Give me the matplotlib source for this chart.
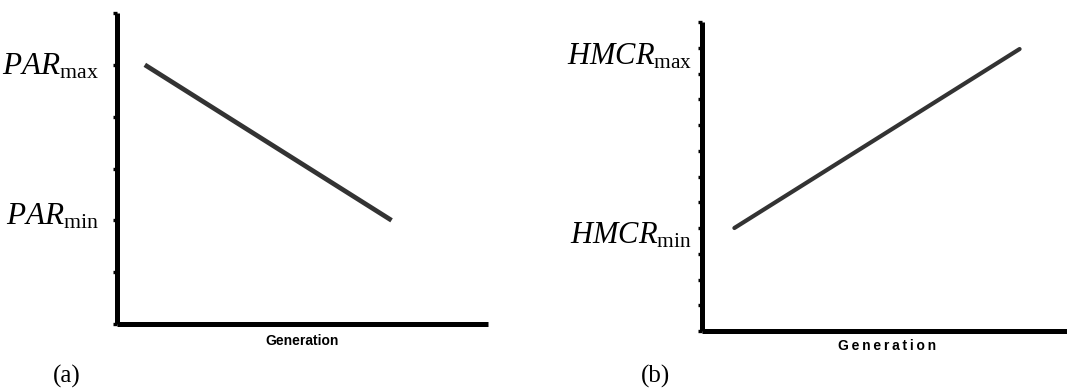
import matplotlib
matplotlib.use("Agg")
import matplotlib.pyplot as plt

plt.rcParams['mathtext.fontset'] = 'custom'
plt.rcParams['mathtext.rm'] = 'Liberation Serif'
plt.rcParams['mathtext.it'] = 'Liberation Serif:italic'

# ---- data ----
par_gen = [7.5, 74.0]
par_values = [5.0, 2.0]
par_ticks = [0, 1, 2, 3, 4, 5, 6]
par_labels = [r'$\mathit{PAR}_{\mathrm{max}}$', r'$\mathit{PAR}_{\mathrm{min}}$']
par_label_pos = [4.98, 2.08]

hmcr_gen = [8.8, 86.3]
hmcr_values = [4.0, 10.95]
hmcr_ticks = list(range(0, 13))
hmcr_labels = [r'$\mathit{HMCR}_{\mathrm{max}}$', r'$\mathit{HMCR}_{\mathrm{min}}$']
hmcr_label_pos = [10.68, 3.72]

xlabel_text = 'Generation'
panel_tags = ['(a)', '(b)']

W, H = 1067, 389
fig = plt.figure(figsize=(W / 100, H / 100), dpi=100)

def px_axes(x0, x1, ytop, ybot):
    return fig.add_axes([x0 / W, 1 - ybot / H, (x1 - x0) / W, (ybot - ytop) / H])

ax1 = px_axes(117, 488, 13, 324)
ax2 = px_axes(702, 1070, 22, 331)

line_color = '#333333'

def style(ax, yticks, ymax):
    for s in ['top', 'right']:
        ax.spines[s].set_visible(False)
    for s in ['left', 'bottom']:
        ax.spines[s].set_linewidth(3.6)
        ax.spines[s].set_color('black')
        ax.spines[s].set_capstyle('butt')
    ax.set_xlim(0, 100)
    ax.set_ylim(0, ymax)
    ax.set_yticks(yticks)
    ax.set_yticklabels([])
    ax.set_xticks([])
    ax.tick_params(axis='y', direction='out', length=3, width=2.4, color='black')

style(ax1, par_ticks, 6)
style(ax2, hmcr_ticks, 12)

ax1.plot(par_gen, par_values, color=line_color, lw=3.4, solid_capstyle='butt', clip_on=False)
ax2.plot(hmcr_gen, hmcr_values, color=line_color, lw=3.0, solid_capstyle='round', clip_on=False)

for lab, yv in zip(par_labels, par_label_pos):
    ax1.annotate(lab, xy=(0, yv), xycoords=('axes fraction', 'data'),
                 xytext=(-13, 0), textcoords='offset points',
                 ha='right', va='center', fontsize=22.5)
for lab, yv in zip(hmcr_labels, hmcr_label_pos):
    ax2.annotate(lab, xy=(0, yv), xycoords=('axes fraction', 'data'),
                 xytext=(-7.2, 0), textcoords='offset points',
                 ha='right', va='center', fontsize=22)

ax1.annotate(xlabel_text, xy=(0.5, 0), xycoords='axes fraction',
             xytext=(0, -12), textcoords='offset points', ha='center', va='center',
             fontsize=10, fontweight='bold', family='Liberation Sans')
spaced = '\u2009'.join(xlabel_text)
fig.text(887 / W, 1 - 346 / H, spaced, ha='center', va='center',
         fontsize=10, fontweight='bold', family=['Liberation Sans', 'DejaVu Sans'])

fig.text(67 / W, 1 - 376 / H, panel_tags[0], ha='center', va='center',
         fontsize=18, family='Liberation Serif')
fig.text(655 / W, 1 - 376 / H, panel_tags[1], ha='center', va='center',
         fontsize=18, family='Liberation Serif')

fig.savefig('out.png', dpi=100)
